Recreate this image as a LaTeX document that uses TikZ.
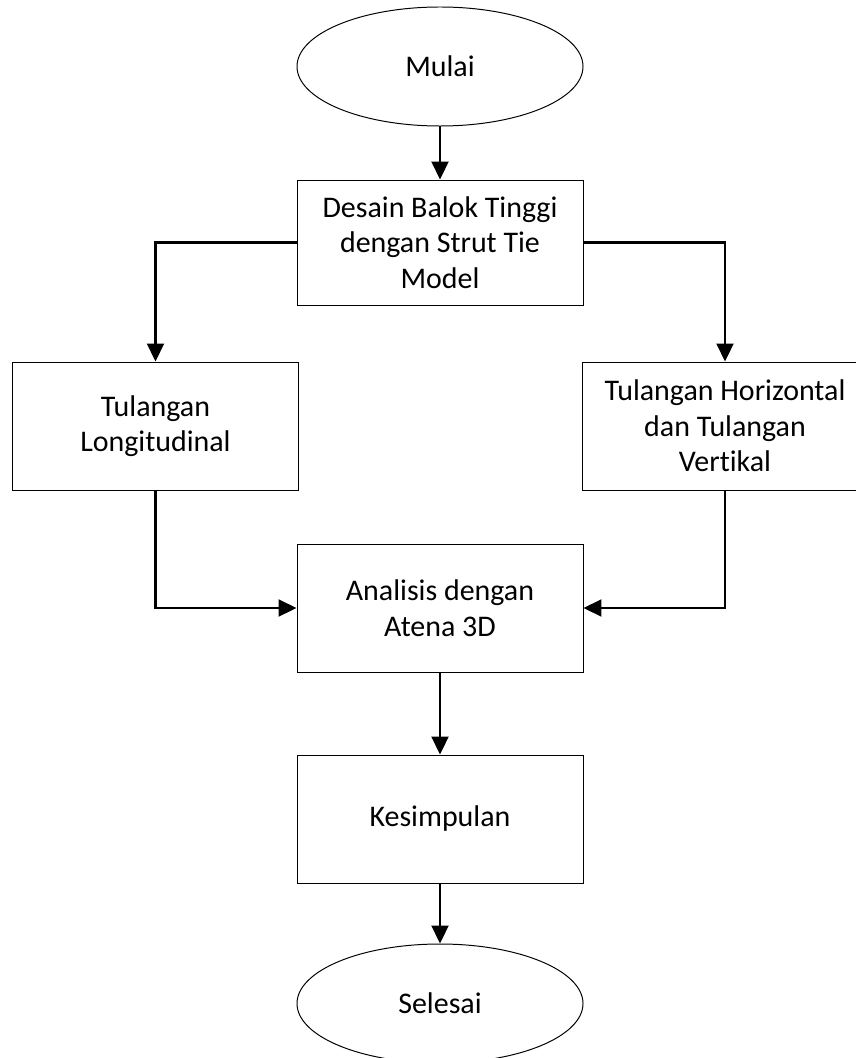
\documentclass[tikz,border=0pt]{standalone}
\usepackage{fontspec}
\setmainfont{Carlito}[Ligatures=NoCommon]
\usetikzlibrary{arrows.meta, positioning, shapes.geometric}

\begin{document}
\begin{tikzpicture}[
    box/.style={rectangle, draw, line width=0.7pt, minimum width=7.15cm, minimum height=3.2cm, align=center, font=\fontsize{21.3}{25.2}\selectfont},
    term/.style={ellipse, draw, line width=0.7pt, minimum width=7.15cm, minimum height=2.975cm, inner sep=0pt, font=\fontsize{21.3}{25.2}\selectfont},
    flow/.style={-{Triangle[length=12.8pt, width=12pt]}, line width=1.9pt}
]
    \useasboundingbox (0,0) rectangle (21.375,-26.45);

    % start and design step
    \node[term] (mulai) at (11,-1.6625) {Mulai};
    \node[box, minimum height=3.125cm] (desain) at (11,-6.0625) {Desain Balok Tinggi\\dengan Strut Tie\\Model};

    % reinforcement
    \node[box] (tlong) at (3.8875,-10.65) {Tulangan\\Longitudinal};
    \node[box] (thor) at (18.125,-10.65) {Tulangan Horizontal\\dan Tulangan\\Vertikal};

    % analysis and end
    \node[box] (analisis) at (11,-15.2) {Analisis dengan\\Atena 3D};
    \node[box] (kesimpulan) at (11,-20.475) {Kesimpulan};
    \node[term] (selesai) at (11,-25.0875) {Selesai};

    % connectors
    \draw[flow] (mulai) -- (desain);
    \draw[flow] (desain.west) -| (tlong.north);
    \draw[flow] (desain.east) -| (thor.north);
    \draw[flow] (tlong.south) |- (analisis.west);
    \draw[flow] (thor.south) |- (analisis.east);
    \draw[flow] (analisis) -- (kesimpulan);
    \draw[flow] (kesimpulan) -- (selesai);
\end{tikzpicture}
\end{document}
